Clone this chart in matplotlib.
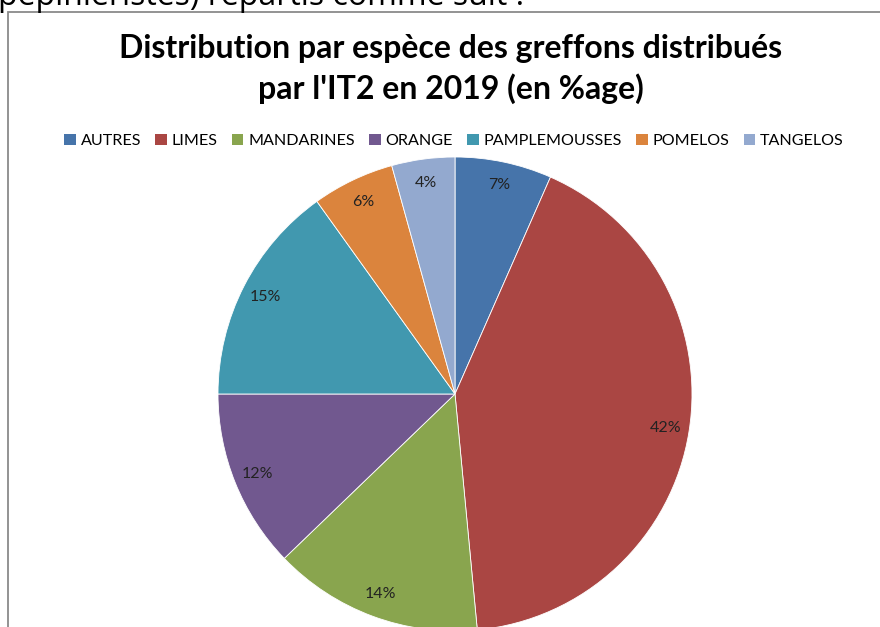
import matplotlib
matplotlib.use('Agg')
import matplotlib.pyplot as plt
from matplotlib.patches import Rectangle

# data
especes = ['AUTRES', 'LIMES', 'MANDARINES', 'ORANGE', 'PAMPLEMOUSSES', 'POMELOS', 'TANGELOS']
parts = [6.6, 41.9, 14.3, 12.2, 15.1, 5.6, 4.3]
etiquettes = ['7%', '42%', '14%', '12%', '15%', '6%', '4%']
couleurs = ['#4674AA', '#AA4643', '#89A54E', '#71588F', '#4198AF', '#DB843D', '#93A9CF']

plt.rcParams['font.family'] = ['Lato', 'DejaVu Sans']

W, H = 880, 627
fig = plt.figure(figsize=(W / 100, H / 100), dpi=100)

# pie centre / radius in pixels
cx, cy, R = 455, 394, 237
ax = fig.add_axes([0, 0, 1, 1])
wedges, texts = ax.pie(parts, labels=etiquettes, colors=couleurs, startangle=90,
                       counterclock=False, labeldistance=0.9,
                       wedgeprops=dict(edgecolor='white', linewidth=0.6),
                       textprops=dict(fontsize=11.5, color='#222222', ha='center', va='center'))
ax.set_aspect('auto')
ax.set_xlim(-cx / R, (W - cx) / R)
ax.set_ylim(-(H - cy) / R, cy / R)
ax.axis('off')

# chart border (gray frame, cut off on right and bottom)
fig.patches.append(Rectangle((8 / W, -0.1), 1.2, (H - 12) / H + 0.1, transform=fig.transFigure,
                             fill=False, edgecolor='#8a8a8a', linewidth=1.3))

# bit of document text above the chart (cut by the top edge)
fig.text(-0.002, 1 - 5 / H, "pépiniéristes) répartis comme suit :", fontsize=23,
         family=['Open Sans', 'DejaVu Sans'], va='baseline', ha='left', color='black')

fig.text(451 / W, 1 - 69 / H, "Distribution par espèce des greffons distribués\npar l'IT2 en 2019 (en %age)",
         fontsize=23, fontweight='bold', ha='center', va='center', linespacing=1.42)

handles = [Rectangle((0, 0), 1, 1, facecolor=c) for c in couleurs]
fig.legend(handles, especes, loc='center', bbox_to_anchor=(454 / W, 1 - 141 / H), ncol=7,
           frameon=False, fontsize=11.6, handlelength=0.7, handleheight=0.7, handletextpad=0.3,
           columnspacing=0.9)

fig.savefig('out.png', dpi=100)
